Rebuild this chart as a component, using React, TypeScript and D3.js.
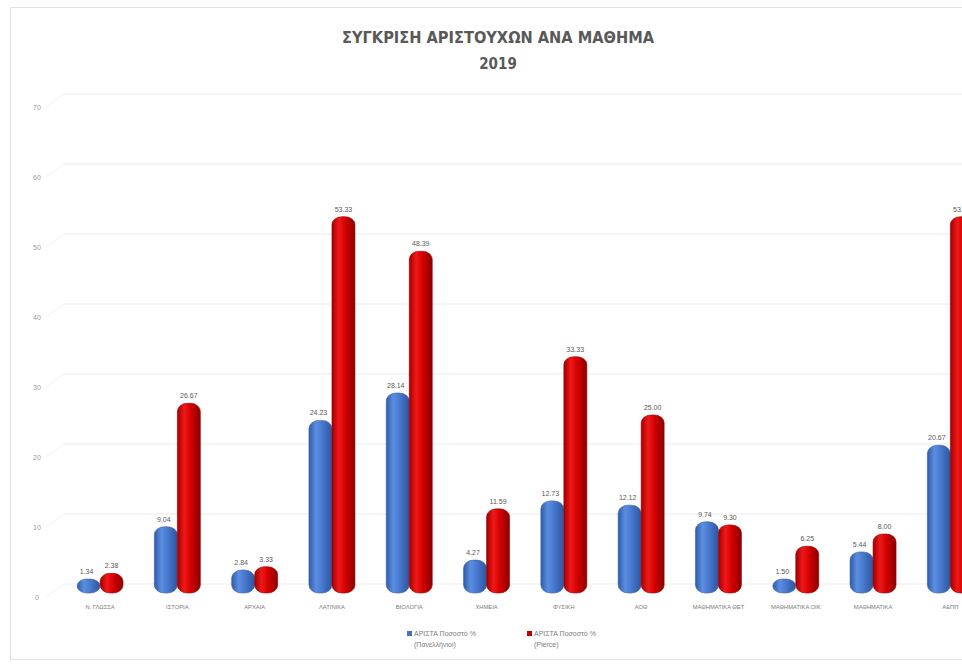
import React from "react";
import * as d3 from "d3";

const categories = [
  "Ν. ΓΛΩΣΣΑ",
  "ΙΣΤΟΡΙΑ",
  "ΑΡΧΑΙΑ",
  "ΛΑΤΙΝΙΚΑ",
  "ΒΙΟΛΟΓΙΑ",
  "ΧΗΜΕΙΑ",
  "ΦΥΣΙΚΗ",
  "ΑΟΘ",
  "ΜΑΘΗΜΑΤΙΚΑ ΘΕΤ",
  "ΜΑΘΗΜΑΤΙΚΑ ΟΙΚ",
  "ΜΑΘΗΜΑΤΙΚΑ",
  "ΑΕΠΠ",
];
const panhellenic = [1.34, 9.04, 2.84, 24.23, 28.14, 4.27, 12.73, 12.12, 9.74, 1.5, 5.44, 20.67];
const pierce = [2.38, 26.67, 3.33, 53.33, 48.39, 11.59, 33.33, 25.0, 9.3, 6.25, 8.0, 53.33];
const yTicks = [0, 10, 20, 30, 40, 50, 60, 70];
const seriesNames = ["ΑΡΙΣΤΑ Ποσοστό %", "ΑΡΙΣΤΑ Ποσοστό %"];
const seriesSub = ["(Πανελλήνιοι)", "(Pierce)"];
const title = "ΣΥΓΚΡΙΣΗ ΑΡΙΣΤΟΥΧΩΝ ΑΝΑ ΜΑΘΗΜΑ";
const subtitle = "2019";

export default function App() {
  const W = 962;
  const H = 667;
  const x = d3.scaleBand<string>().domain(categories).range([61.4, 61.4 + 77.3 * 12]).padding(0);
  const yLabel = d3.scaleLinear().domain([0, 70]).range([597, 107]);
  const yBar = d3.scaleLinear().domain([0, 70]).range([593, 103]);
  const yGrid = d3.scaleLinear().domain([0, 70]).range([584, 94]);
  const bw = 23;
  const font = "'Liberation Sans', Arial, sans-serif";

  const bar = (cx: number, v: number, fill: string, key: string) => {
    const top = Math.min(yBar(v) - 3, yBar(0) - 14);
    const h = yBar(0) - top;
    return (
      <rect key={key} x={cx - bw / 2} y={top} width={bw} height={h} rx={10} ry={8} fill={fill}
        stroke={fill === "url(#gB)" ? "#3a62a8" : "#9a0000"} strokeWidth={0.6} />
    );
  };

  return (
    <svg width={W} height={H} style={{ position: "fixed", left: 0, top: 0, background: "#fff" }}>
      <defs>
        <linearGradient id="gB" x1="0" x2="1" y1="0" y2="0">
          <stop offset="0" stopColor="#2f5aa8" />
          <stop offset="0.3" stopColor="#5b8ee0" />
          <stop offset="0.55" stopColor="#4a7bd0" />
          <stop offset="1" stopColor="#2c56a0" />
        </linearGradient>
        <linearGradient id="gR" x1="0" x2="1" y1="0" y2="0">
          <stop offset="0" stopColor="#a00000" />
          <stop offset="0.3" stopColor="#f01818" />
          <stop offset="0.6" stopColor="#d00000" />
          <stop offset="1" stopColor="#8a0000" />
        </linearGradient>
      </defs>
      <rect x={10.5} y={7.5} width={W} height={652} fill="none" stroke="#e2e2e2" />
      <text x={498} y={43} textAnchor="middle" fontFamily="'Liberation Sans Narrow', 'DejaVu Sans Condensed', sans-serif"
        fontWeight="bold" fontSize={15} fill="#595959" textLength={312} lengthAdjust="spacingAndGlyphs">{title}</text>
      <text x={498} y={69} textAnchor="middle" fontFamily="'Liberation Sans Narrow', 'DejaVu Sans Condensed', sans-serif"
        fontWeight="bold" fontSize={15} fill="#595959">{subtitle}</text>
      {yTicks.map((t) => (
        <g key={t}>
          <line x1={64} x2={W} y1={yGrid(t)} y2={yGrid(t)} stroke="#ececec" strokeWidth={1} />
          <line x1={46} x2={64} y1={yLabel(t)} y2={yGrid(t)} stroke="#f2f2f2" strokeWidth={1} />
          <text x={37} y={yLabel(t) + 2.5} textAnchor="middle" fontFamily={font} fontSize={7} fill="#9a9a9a">{t}</text>
        </g>
      ))}
      {categories.map((c, i) => {
        const cx = (x(c) as number) + x.bandwidth() / 2;
        const bx = cx - bw / 2;
        const rx = cx + bw / 2;
        const vb = panhellenic[i];
        const vr = pierce[i];
        const tb = Math.min(yBar(vb) - 3, yBar(0) - 14);
        const tr = Math.min(yBar(vr) - 3, yBar(0) - 14);
        return (
          <g key={c}>
            {bar(bx, vb, "url(#gB)", "b")}
            {bar(rx, vr, "url(#gR)", "r")}
            <text x={bx - 2} y={tb - 5} textAnchor="middle" fontFamily={font} fontSize={7} fill="#595959">{vb.toFixed(2)}</text>
            <text x={rx} y={tr - 5} textAnchor="middle" fontFamily={font} fontSize={7} fill="#595959">{vr.toFixed(2)}</text>
            <text x={cx} y={609} textAnchor="middle" fontFamily={font} fontSize={5.8} fill="#7a7a7a">{c}</text>
          </g>
        );
      })}
      {[0, 1].map((s) => {
        const lx = s === 0 ? 407 : 527;
        return (
          <g key={s}>
            <rect x={lx} y={631} width={5} height={5} fill={s === 0 ? "#4472c4" : "#c00000"} />
            <text x={lx + 7} y={636} fontFamily={font} fontSize={7} fill="#7a7a7a">{seriesNames[s]}</text>
            <text x={lx + 7} y={647} fontFamily={font} fontSize={7} fill="#7a7a7a">{seriesSub[s]}</text>
          </g>
        );
      })}
    </svg>
  );
}
